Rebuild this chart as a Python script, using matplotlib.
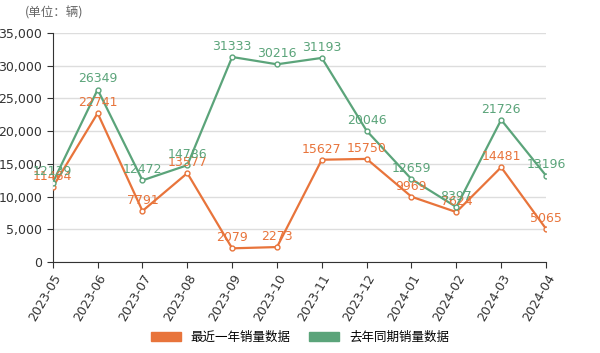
import matplotlib.pyplot as plt
from matplotlib.patches import Patch

plt.rcParams['font.family'] = ['Noto Sans CJK SC', 'DejaVu Sans']

months = ["2023-05", "2023-06", "2023-07", "2023-08", "2023-09", "2023-10",
          "2023-11", "2023-12", "2024-01", "2024-02", "2024-03", "2024-04"]
recent = [11464, 22741, 7791, 13577, 2079, 2273, 15627, 15750, 9969, 7624, 14481, 5065]
last_year = [12139, 26349, 12472, 14786, 31333, 30216, 31193, 20046, 12659, 8397, 21726, 13196]
series_names = ["最近一年销量数据", "去年同期销量数据"]

orange = "#e8743b"
green = "#5ba47a"

fig = plt.figure(figsize=(6, 3.53), dpi=100)
ax = fig.add_axes([0.088, 0.258, 0.822, 0.6485])

x = list(range(len(months)))
for vals, col in [(recent, orange), (last_year, green)]:
    ax.plot(x, vals, color=col, lw=1.6, marker="o", ms=3.5,
            mfc="white", mec=col, mew=1, zorder=3)
    for xi, v in zip(x, vals):
        ax.annotate(str(v), (xi, v), xytext=(0, 3), textcoords="offset points",
                    ha="center", va="bottom", color=col, fontsize=9,
                    family="DejaVu Sans", zorder=4)

ax.set_xlim(0, len(months) - 1)
ax.set_ylim(0, 35000)
ax.set_yticks(range(0, 35001, 5000))
ax.set_yticklabels([f"{v:,}" for v in range(0, 35001, 5000)], family="DejaVu Sans")
ax.set_xticks(x)
ax.set_xticklabels(months, rotation=60, ha="right", rotation_mode="anchor",
                   family="DejaVu Sans")
ax.tick_params(axis="both", labelsize=9, colors="#333333", length=4)
ax.grid(axis="y", color="#dddddd", lw=1)
ax.set_axisbelow(True)
for s in ["top", "right"]:
    ax.spines[s].set_visible(False)
ax.spines["left"].set_color("#333333")
ax.spines["bottom"].set_color("#333333")

fig.text(0.042, 0.963, "(单位：辆)", fontsize=9, color="#666666", va="center")

handles = [Patch(color=orange, label=series_names[0]),
           Patch(color=green, label=series_names[1])]
fig.legend(handles=handles, loc="center", bbox_to_anchor=(0.5, 0.045), ncol=2,
           frameon=False, fontsize=9, handlelength=2.4, handleheight=0.7,
           columnspacing=1.5)

fig.savefig("out.png", dpi=100)
